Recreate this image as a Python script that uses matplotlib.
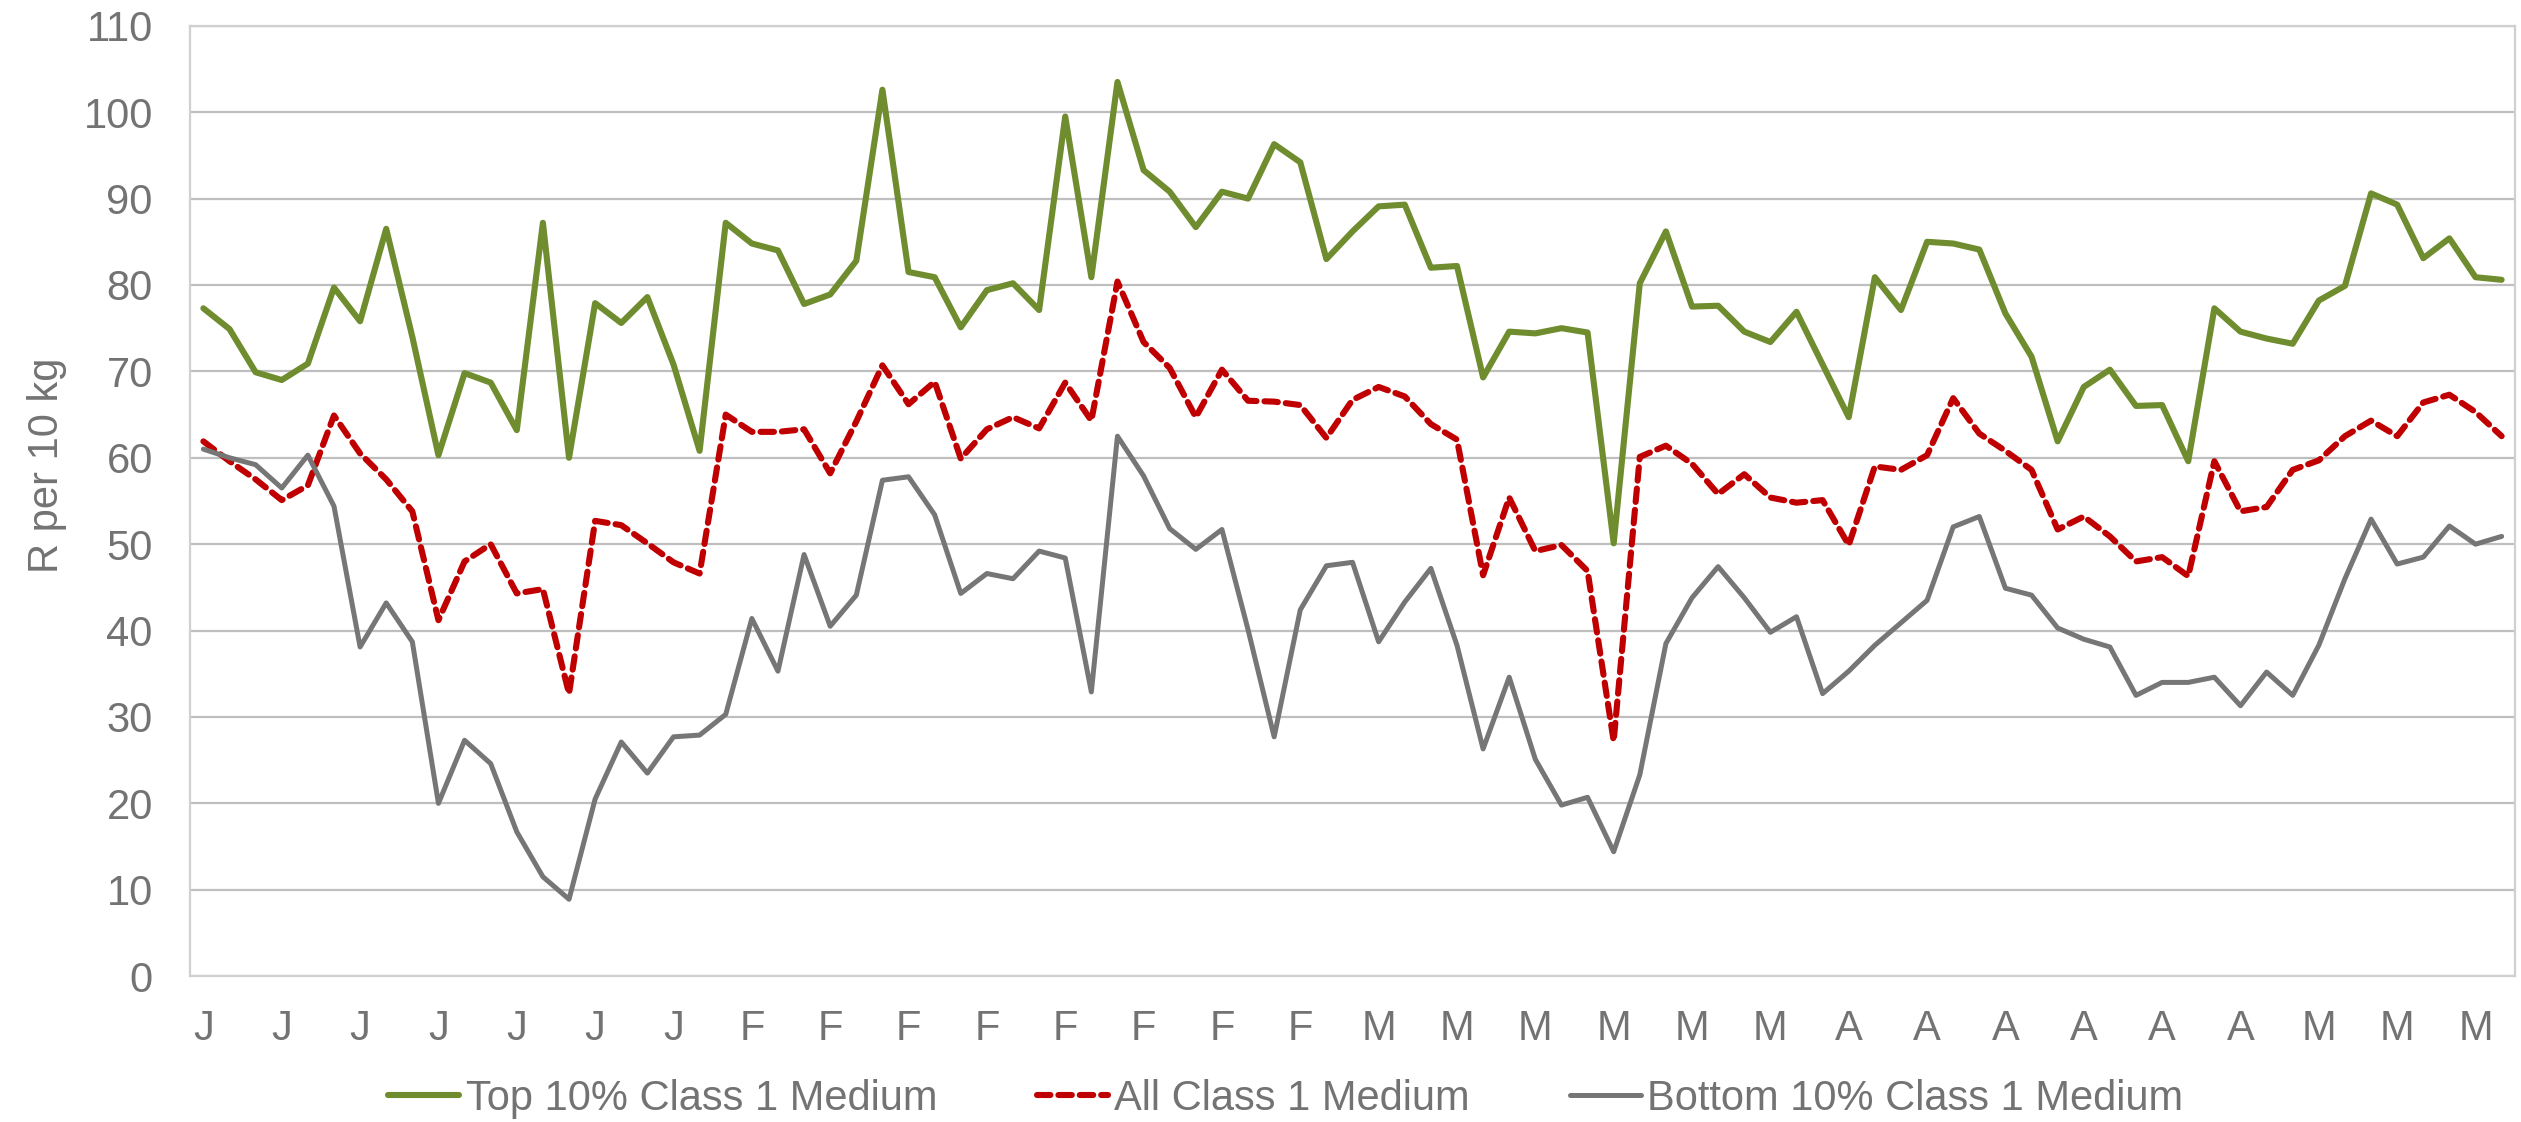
import matplotlib
matplotlib.use('Agg')
import matplotlib.pyplot as plt
import numpy as np

plt.rcParams['font.family'] = ['Liberation Sans', 'DejaVu Sans']

# month letter for each point (weekly data)
months = ['J'] * 21 + ['F'] * 24 + ['M'] * 18 + ['A'] * 18 + ['M'] * 8

top10 = [77.3, 74.9, 69.9, 69.0, 70.9, 79.7, 75.8, 86.5, 74.0, 60.3,
         69.8, 68.7, 63.2, 87.2, 60.0, 77.9, 75.6, 78.6, 70.8, 60.8,
         87.2, 84.8, 84.0, 77.8, 78.9, 82.8, 102.6, 81.5, 80.9, 75.1,
         79.4, 80.2, 77.1, 99.5, 80.9, 103.5, 93.3, 90.8, 86.7, 90.8,
         90.0, 96.3, 94.2, 83.0, 86.2, 89.1, 89.3, 82.0, 82.2, 69.3,
         74.6, 74.4, 75.0, 74.5, 50.1, 80.2, 86.2, 77.5, 77.6, 74.6,
         73.4, 76.9, 70.8, 64.7, 80.9, 77.1, 85.0, 84.8, 84.1, 76.7,
         71.7, 61.9, 68.2, 70.2, 66.0, 66.1, 59.6, 77.3, 74.6, 73.8,
         73.2, 78.2, 79.9, 90.6, 89.3, 83.1, 85.4, 80.9, 80.6]

all_cls = [61.9, 59.6, 57.5, 55.1, 56.8, 64.9, 60.5, 57.5, 53.8, 41.2,
           48.0, 50.0, 44.3, 44.8, 32.7, 52.7, 52.2, 50.1, 47.9, 46.6,
           65.0, 63.0, 63.0, 63.3, 58.2, 64.2, 70.7, 66.2, 68.8, 59.9,
           63.3, 64.7, 63.4, 68.7, 64.3, 80.4, 73.4, 70.4, 64.7, 70.2,
           66.6, 66.5, 66.1, 62.3, 66.7, 68.2, 67.1, 63.9, 62.1, 46.4,
           55.4, 49.2, 49.9, 46.9, 27.2, 60.1, 61.4, 59.3, 55.8, 58.1,
           55.4, 54.8, 55.1, 49.9, 59.0, 58.6, 60.3, 66.9, 62.8, 60.8,
           58.6, 51.7, 53.2, 50.9, 48.0, 48.5, 46.3, 59.6, 53.8, 54.3,
           58.6, 59.7, 62.5, 64.3, 62.5, 66.4, 67.3, 65.3, 62.5]

bottom10 = [61.0, 60.0, 59.2, 56.5, 60.3, 54.4, 38.1, 43.2, 38.7, 20.0,
            27.3, 24.6, 16.7, 11.5, 8.9, 20.5, 27.1, 23.5, 27.7, 27.9,
            30.3, 41.4, 35.3, 48.8, 40.5, 44.1, 57.4, 57.8, 53.4, 44.3,
            46.6, 46.0, 49.2, 48.4, 32.9, 62.5, 57.9, 51.8, 49.4, 51.7,
            40.1, 27.7, 42.4, 47.5, 47.9, 38.7, 43.3, 47.2, 38.3, 26.3,
            34.6, 25.1, 19.8, 20.7, 14.4, 23.3, 38.5, 43.8, 47.4, 43.8,
            39.8, 41.6, 32.7, 35.3, 38.3, 40.9, 43.5, 52.0, 53.2, 44.9,
            44.1, 40.3, 39.0, 38.1, 32.5, 34.0, 34.0, 34.6, 31.3, 35.2,
            32.5, 38.3, 46.0, 52.9, 47.7, 48.5, 52.1, 50.0, 50.9]

x = np.arange(len(months))
txt = '#737373'
fs = 30

fig = plt.figure(figsize=(25.21, 11.22), dpi=100)
ax = fig.add_axes([0.0755, 0.130, 0.922, 0.847])

ax.plot(x, top10, color='#6F8C2F', linewidth=4.4, label='Top 10% Class 1 Medium',
        solid_joinstyle='round', solid_capstyle='round')
ax.plot(x, all_cls, color='#C00000', linewidth=4.4, linestyle=(0, (2.2, 1.3)),
        label='All Class 1 Medium', dash_capstyle='round')
ax.plot(x, bottom10, color='#767676', linewidth=3.6, label='Bottom 10% Class 1 Medium',
        solid_joinstyle='round', solid_capstyle='round')

ax.set_xlim(-0.5, len(months) - 0.5)
ax.set_ylim(0, 110)
ax.set_yticks(np.arange(0, 111, 10))
ax.set_xticks(x[::3])
ax.set_xticklabels(months[::3])
ax.yaxis.grid(True, color='#BFBFBF', linewidth=1.6)
ax.set_axisbelow(True)
for s in ax.spines.values():
    s.set_color('#D0D0D0')
    s.set_linewidth(1.6)
ax.tick_params(axis='both', length=0, labelsize=fs, colors=txt)
ax.tick_params(axis='x', pad=24)
ax.tick_params(axis='y', pad=27)
ax.set_ylabel('R per 10 kg', fontsize=fs, color=txt)
ax.yaxis.set_label_coords(-0.053, 0.538)

fig.legend(loc='center', bbox_to_anchor=(0.51, 0.0205), ncol=3, frameon=False,
           fontsize=fs, labelcolor=txt, handlelength=1.7, handletextpad=0.15,
           columnspacing=2.4)

fig.savefig('out.png', dpi=100)
